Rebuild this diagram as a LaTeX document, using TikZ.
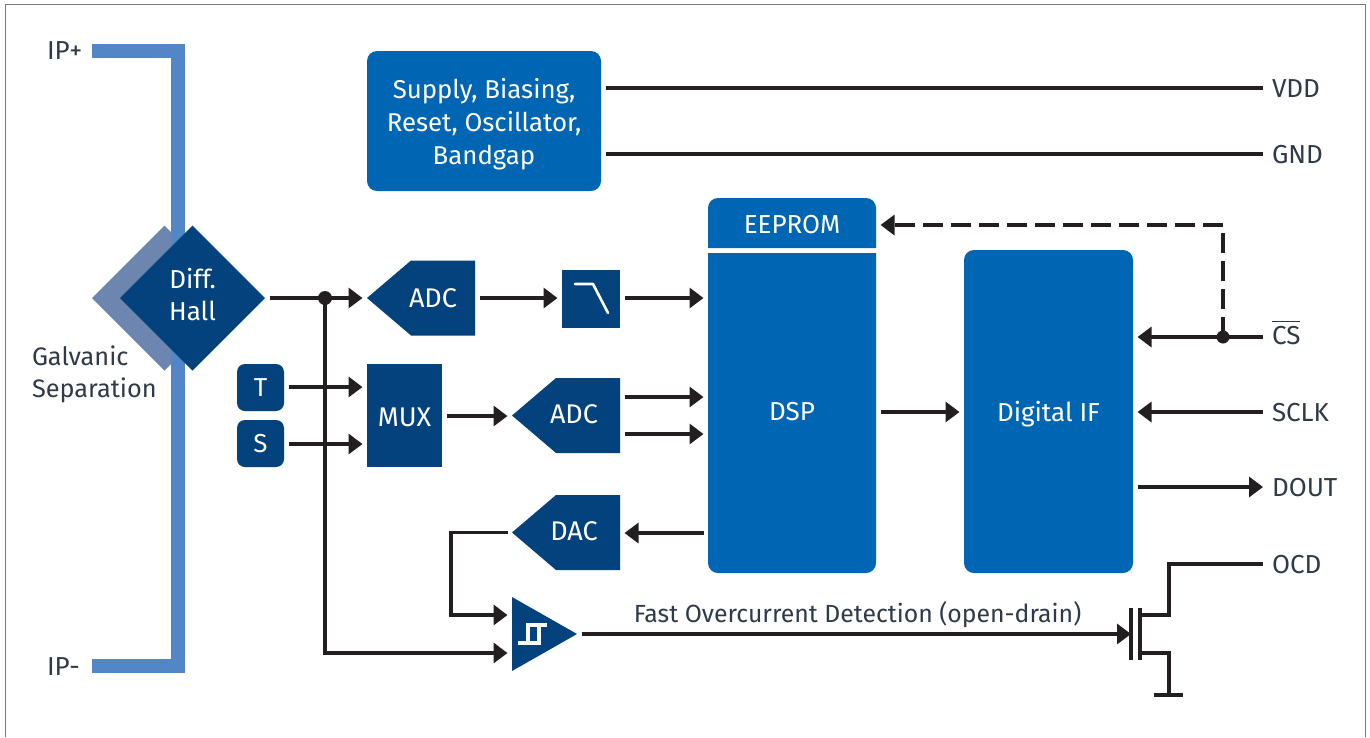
\documentclass[tikz,border=0pt]{standalone}
\usepackage{fontspec}
\setmainfont{Fira Sans}
\usetikzlibrary{arrows.meta,shapes.geometric}
\definecolor{navy}{HTML}{03427C}
\definecolor{midblue}{HTML}{0066B3}
\definecolor{barblue}{HTML}{5386C6}
\definecolor{shade}{HTML}{6C86B0}
\definecolor{ink}{HTML}{231F20}
\definecolor{labelc}{HTML}{2F3A48}
\definecolor{framec}{HTML}{7A7A7A}
\tikzset{
  x=1pt,y=-1pt,
  every node/.style={inner sep=0pt,outer sep=0pt,font=\fontsize{26}{33}\selectfont,align=center},
  conn/.style={draw=ink,line width=3.3pt,shorten <=4.5pt,shorten >=4.5pt},
  plain/.style={draw=ink,line width=3.3pt},
  tip/.style={-{Triangle[length=14pt,width=20pt]}},
  dot/.style={circle,fill=ink,minimum size=14pt},
  lbl/.style={text=labelc,anchor=base west},
  darkbox/.style={rectangle,fill=navy,text=white},
  bluebox/.style={rectangle,fill=midblue,text=white,rounded corners=10pt},
  pentagon/.style={rectangle,text=white,minimum height=75pt,minimum width=#1,
    font=\fontsize{27}{33}\selectfont,
    path picture={\fill[navy] (path picture bounding box.west)
      -- ([xshift=44pt]path picture bounding box.north west)
      -- (path picture bounding box.north east)
      -- (path picture bounding box.south east)
      -- ([xshift=44pt]path picture bounding box.south west) -- cycle;}},
  tribox/.style={rectangle,minimum width=65pt,minimum height=74pt,
    path picture={\fill[navy] (path picture bounding box.north west)
      -- (path picture bounding box.east)
      -- (path picture bounding box.south west) -- cycle;}},
  topround/.style={rectangle,text=white,minimum width=168pt,minimum height=50pt,
    path picture={\fill[midblue] (path picture bounding box.south west)
      [rounded corners=10pt] -- (path picture bounding box.north west)
      -- (path picture bounding box.north east)
      [sharp corners] -- (path picture bounding box.south east) -- cycle;}},
  botround/.style={rectangle,text=white,minimum width=168pt,minimum height=320pt,
    path picture={\fill[midblue] (path picture bounding box.north west)
      [rounded corners=10pt] -- (path picture bounding box.south west)
      -- (path picture bounding box.south east)
      [sharp corners] -- (path picture bounding box.north east) -- cycle;}},
}
\begin{document}
\begin{tikzpicture}
\useasboundingbox (0,0) rectangle (1370,737);
\fill[white] (0,0) rectangle (1370,737);
% frame
\draw[framec,line width=1.6pt] (5.5,737) -- (5.5,4.5) -- (1365.5,4.5) -- (1365.5,737);
% current rail and isolation
\node[diamond,aspect=1,minimum width=145pt,minimum height=145pt,fill=shade] (shadow) at (164.5,298) {};
\draw[barblue,line width=14pt] (92,51) -- (178,51) -- (178,666) -- (92,666);
\node[diamond,aspect=1,minimum width=145pt,minimum height=145pt,fill=navy,text=white] (hall) at (192.5,298) {};
\node[text=white] (halltext) at (192.5,294.5) {Diff.\\[-1pt]Hall};
\node[lbl] (ipp) at (47,59) {IP+};
\node[lbl] (ipm) at (47,675) {IP-};
\node[lbl,anchor=west,align=left,font=\fontsize{25.3}{32}\selectfont] (galv) at (32,374) {Galvanic\\Separation};
% blocks
\node[bluebox,minimum width=234pt,minimum height=140pt,font=\fontsize{25.8}{33}\selectfont] (supply) at (484,121) {\parbox{234pt}{\vspace*{6pt}\centering Supply, Biasing,\\Reset, Oscillator,\\Bandgap}};
\node[topround] (eeprom) at (792,223) {\rule{0pt}{22pt}EEPROM};
\node[botround] (dsp) at (792,413) {\raisebox{3pt}{DSP}};
\node[bluebox,minimum width=169pt,minimum height=323pt] (dif) at (1048.5,411.5) {\rule[-6pt]{0pt}{31pt}Digital IF};
\node[pentagon=108pt] (adca) at (421,298) {\hspace*{24pt}ADC};
\node[darkbox,minimum width=58pt,minimum height=58pt] (filt) at (591,299) {};
\draw[white,line width=2.6pt,line cap=round,line join=round] (575,284) -- (593,284) -- (608,313);
\node[darkbox,minimum width=75pt,minimum height=103pt,font=\fontsize{27}{33}\selectfont] (mux) at (404.5,415.5) {\rule{0pt}{23pt}MUX};
\node[darkbox,rounded corners=8pt,minimum width=47pt,minimum height=47pt] (t) at (260.5,387.5) {T};
\node[darkbox,rounded corners=8pt,minimum width=47pt,minimum height=47pt] (s) at (260.5,443.5) {S};
\node[pentagon=108pt] (adcb) at (566,415.5) {\hspace*{16pt}\rule[-2pt]{0pt}{2pt}ADC};
\node[pentagon=108pt] (dac) at (566,532.5) {\hspace*{16pt}\rule[-2pt]{0pt}{2pt}DAC};
\node[tribox] (cmp) at (544.5,634) {};
\draw[white,line width=4pt] (518,643) -- (539,643) -- (539,625) -- (547,625) (528,643) -- (528,625) -- (539,625);
% pins
\node[lbl] (vdd) at (1272,97) {VDD};
\node[lbl] (gnd) at (1272,163) {GND};
\node[lbl] (cs) at (1272,344) {$\overline{\rule{0pt}{21pt}\mbox{CS}}$};
\node[lbl] (sclk) at (1272,421) {SCLK};
\node[lbl] (dout) at (1272,496) {DOUT};
\node[lbl] (ocd) at (1272,573) {OCD};
\node[text=labelc,anchor=base,font=\fontsize{24.8}{30}\selectfont] (fast) at (857.5,622) {Fast Overcurrent Detection (open-drain)};
% port coordinates
\coordinate (supv) at (601,88);
\coordinate (supg) at (601,154);
\coordinate (vddp) at (1267.5,88);
\coordinate (gndp) at (1267.5,154);
\coordinate (dspi) at (708,298);
\coordinate (filti) at (562,298);
\coordinate (filto) at (620,298);
\coordinate (muxt) at (367,387);
\coordinate (muxs) at (367,444);
\coordinate (adcbi) at (512,416);
\coordinate (muxo) at (442,416);
\coordinate (adcba) at (620,397);
\coordinate (adcbb) at (620,434);
\coordinate (dspa) at (708,397);
\coordinate (dspb) at (708,434);
\coordinate (dspc) at (708,533);
\coordinate (dacr) at (620,533);
\coordinate (dspo) at (876,412);
\coordinate (difi) at (964,412);
\coordinate (cmpa) at (512,615);
\coordinate (cmpb) at (512,653);
\coordinate (turnd) at (451,532.5);
\coordinate (turne) at (451,615);
\coordinate (junc) at (325,298);
\coordinate (turnv) at (325,653);
\coordinate (csp) at (1267.5,337);
\coordinate (sclkp) at (1267.5,412);
\coordinate (doutp) at (1267.5,487);
\coordinate (ocdp) at (1263,564);
\coordinate (difcs) at (1133,337);
\coordinate (difsc) at (1133,412);
\coordinate (difdo) at (1133,487);
\coordinate (csj) at (1223,337);
\coordinate (csturn) at (1223,225);
\coordinate (eepi) at (876,225);
\coordinate (gate) at (1135.5,634);
\coordinate (gt) at (1131,608);
\coordinate (gb) at (1131,660);
\coordinate (cht) at (1140,608);
\coordinate (chb) at (1140,660);
\coordinate (dr) at (1140,615);
\coordinate (drc) at (1169,615);
\coordinate (drt) at (1169,564);
\coordinate (so) at (1140,653);
\coordinate (soc) at (1169,653);
\coordinate (sob) at (1169,694.5);
\coordinate (ga) at (1154,694.5);
\coordinate (gz) at (1183,694.5);
% connectors
\draw[conn] (supv) -- (vddp);
\draw[conn] (supg) -- (gndp);
\draw[conn,tip] (hall.east) -- (adca.west);
\draw[conn,tip] (adca.east) -- (filti);
\draw[conn,tip] (filto) -- (dspi);
\draw[conn,tip] (t.east |- muxt) -- (muxt);
\draw[conn,tip] (s.east |- muxs) -- (muxs);
\draw[conn,tip] (muxo) -- (adcbi);
\draw[conn,tip] (adcba) -- (dspa);
\draw[conn,tip] (adcbb) -- (dspb);
\draw[conn,tip] (dspc) -- (dacr);
\draw[conn,tip] (dspo) -- (difi);
\draw[conn,tip,line join=miter] (dac.west) -- (turnd) -- (turne) -- (cmpa);
\draw[conn,tip,shorten <=0pt] (junc) -- (turnv) -- (cmpb);
\node[dot] (jd) at (junc) {};
\draw[conn,tip] (cmp.east) -- (gate);
\draw[conn,tip] (csp) -- (difcs);
\draw[conn,tip] (sclkp) -- (difsc);
\draw[conn,tip] (difdo) -- (doutp);
\node[dot,minimum size=13pt] (csd) at (csj) {};
\draw[draw=ink,line width=3.3pt,dash pattern=on 20pt off 8pt,tip,shorten >=4.5pt] (csj) -- (csturn) -- (eepi);
% transistor
\draw[plain,line width=4pt] (gt) -- (gb);
\draw[plain,line width=4pt] (cht) -- (chb);
\draw[plain,line join=miter] (dr) -- (drc) -- (drt) -- (ocdp);
\draw[plain,line join=miter] (so) -- (soc) -- (sob);
\draw[plain,line width=4pt] (ga) -- (gz);
\end{tikzpicture}
\end{document}
